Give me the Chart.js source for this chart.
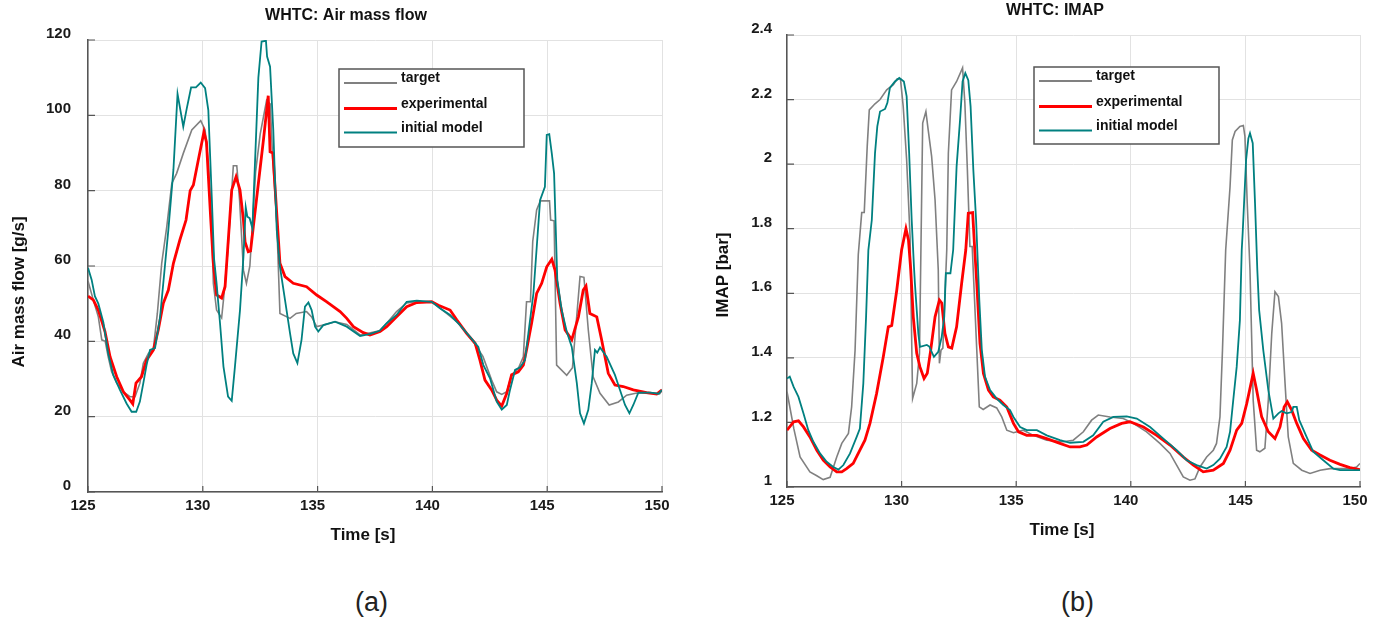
<!DOCTYPE html>
<html>
<head>
<meta charset="utf-8">
<script src="https://cdn.jsdelivr.net/npm/chart.js@4.4.1/dist/chart.umd.min.js"></script>
<style>
  html, body { margin: 0; padding: 0; background: #fff; }
  body { width: 1379px; height: 625px; position: relative; overflow: hidden; }
  canvas { position: absolute; top: 0; }
  #airChart { left: 0; }
  #imapChart { left: 700px; }
  .cap { position: absolute; top: 586px; font: 27px "Liberation Sans", Arial, sans-serif; color: #222; line-height: 32px; }
</style>
</head>
<body>
<canvas id="airChart" width="700" height="560"></canvas>
<canvas id="imapChart" width="679" height="560"></canvas>
<div class="cap" style="left:355px">(a)</div>
<div class="cap" style="left:1061px">(b)</div>
<script>
// WHTC comparison: air mass flow (a) and intake manifold pressure (b), 125-150 s window.
// Values.

const SERIES_NAMES = ["target", "experimental", "initial model"];
const TIME_TICKS = [125, 130, 135, 140, 145, 150];
const AIR_TICKS = [0, 20, 40, 60, 80, 100, 120];
const IMAP_TICKS = [1, 1.2, 1.4, 1.6, 1.8, 2, 2.2, 2.4];
const IMAP_TICK_LABELS = ["1", "1.2", "1.4", "1.6", "1.8", "2", "2.2", "2.4"];

// (a) air mass flow [g/s]
const airTargetT = [125, 125.23, 125.45, 125.6, 125.75, 125.88, 126.03, 126.25, 126.54, 126.83,
  127.05, 127.26, 127.41, 127.63, 127.85, 128.02, 128.21, 128.43, 128.65, 128.86,
  129.15, 129.52, 129.91, 130.1, 130.24, 130.39, 130.46, 130.6, 130.82, 130.9,
  131.09, 131.33, 131.48, 131.6, 131.77, 131.9, 132.05, 132.3, 132.5, 132.78,
  132.94, 133.04, 133.22, 133.36, 133.8, 134.07, 134.52, 134.74, 134.96, 135.25,
  135.76, 136.27, 136.85, 137.3, 137.7, 138.01, 138.44, 138.88, 139.32, 139.97,
  140.62, 141.2, 141.78, 142.2, 142.58, 142.8, 143.02, 143.24, 143.45, 143.74,
  143.96, 144.1, 144.27, 144.37, 144.54, 144.7, 145.1, 145.15, 145.3, 145.41,
  145.85, 146.1, 146.43, 146.6, 146.79, 147.0, 147.3, 147.7, 148.1, 148.46,
  148.9, 149.9, 150];
const airTargetV = [56, 51, 46.5, 40.4, 40, 35.9, 31.9, 28.9, 26.6, 25.3,
  25.3, 28.9, 34.2, 36.8, 38.2, 47.4, 60.7, 70.4, 81.9, 84.6,
  89.9, 96.1, 98.6, 96.1, 87.3, 69.6, 55.4, 48.3, 46.2, 51,
  64, 86.6, 86.6, 77.7, 58.9, 55.4, 60, 85, 95, 104,
  103, 89, 72, 47.4, 46.1, 47.4, 47.9, 46.5, 43.9, 44.3,
  45.2, 44.5, 41.7, 42.3, 42.8, 44.8, 47.9, 50.2, 50.5, 50.5,
  47.4, 44.5, 39.9, 36, 29.7, 26.6, 25.9, 26.6, 31.1, 32.8,
  35.9, 50.5, 50.5, 66.5, 74.9, 77.3, 77.3, 72.2, 72, 33.7,
  31, 33, 57.2, 57, 43, 30.6, 26.2, 23.1, 23.9, 25.7,
  26.3, 26.1, 27];

const airExpT = [125, 125.23, 125.45, 125.74, 125.96, 126.25, 126.54, 126.83, 126.95, 127.09,
  127.33, 127.55, 127.85, 128.06, 128.28, 128.5, 128.72, 129.0, 129.27, 129.45,
  129.59, 129.8, 130.05, 130.16, 130.35, 130.46, 130.6, 130.82, 130.97, 131.04,
  131.26, 131.45, 131.62, 131.77, 131.84, 131.98, 132.08, 132.2, 132.42, 132.64,
  132.85, 132.93, 133.05, 133.22, 133.36, 133.58, 133.94, 134.52, 134.96, 135.4,
  135.98, 136.27, 136.56, 136.99, 137.28, 137.72, 138.01, 138.44, 138.88, 139.32,
  139.97, 140.26, 140.77, 141.06, 141.49, 141.86, 142.07, 142.29, 142.58, 142.8,
  143.02, 143.24, 143.45, 143.74, 143.96, 144.1, 144.32, 144.54, 144.76, 144.98,
  145.2, 145.34, 145.56, 145.78, 146.07, 146.36, 146.57, 146.69, 146.86, 147.16,
  147.37, 147.66, 147.95, 148.31, 148.75, 149.33, 149.77, 150];
const airExpV = [52, 51, 48.3, 42.6, 35.9, 30.6, 26.6, 24.4, 23.4, 28.9,
  30.6, 35, 37.7, 43, 50.1, 53.6, 60.7, 66.9, 72.2, 80,
  81.5, 88, 95.6, 92.9, 72, 60.7, 52.3, 51.5, 54.5, 60.7,
  80.2, 83.7, 80.2, 72.2, 66.4, 63.8, 64, 70.4, 81.9, 93.4,
  105.2, 90.3, 90, 74, 60.7, 57.2, 55.4, 54.5, 52.3, 50.5,
  47.9, 46.1, 43.9, 42.3, 41.7, 42.6, 43.9, 46.5, 49.2, 50.3,
  50.5, 49.6, 48.3, 45.7, 42.1, 39.5, 35, 29.7, 27.1, 24.4,
  22.8, 26.2, 31.1, 31.9, 33.7, 37.7, 44.8, 52.7, 55.4, 59.8,
  61.8, 58.9, 50.1, 43, 40.4, 46.5, 53.6, 54.7, 47.4, 46.5,
  40.4, 31.5, 28.4, 28, 27.1, 26.4, 26, 27.1];

const airModelT = [125, 125.16, 125.3, 125.45, 125.67, 125.88, 126.1, 126.39, 126.68, 126.9,
  127.1, 127.26, 127.41, 127.55, 127.7, 127.92, 128.14, 128.35, 128.5, 128.72,
  128.9, 129.15, 129.3, 129.49, 129.7, 129.91, 130.1, 130.24, 130.39, 130.49,
  130.6, 130.75, 130.9, 131.1, 131.26, 131.4, 131.62, 131.77, 131.87, 131.94,
  132.04, 132.16, 132.42, 132.56, 132.75, 132.8, 132.93, 133.07, 133.22, 133.36,
  133.58, 133.8, 133.94, 134.12, 134.3, 134.45, 134.6, 134.74, 134.89, 135.03,
  135.25, 135.76, 136.27, 136.85, 137.3, 137.7, 138.01, 138.44, 138.88, 139.32,
  139.97, 140.33, 140.77, 141.2, 141.64, 142.0, 142.22, 142.51, 142.8, 143.02,
  143.24, 143.38, 143.6, 143.82, 144.03, 144.18, 144.4, 144.69, 144.9, 144.98,
  145.09, 145.2, 145.3, 145.44, 145.63, 145.85, 146.07, 146.29, 146.43, 146.6,
  146.79, 146.94, 147.08, 147.18, 147.3, 147.59, 147.95, 148.17, 148.39, 148.58,
  148.75, 148.97, 149.5, 149.86, 150];
const airModelV = [59.5, 56.3, 52, 50, 45, 36.8, 31.1, 27.1, 23.5, 21.3,
  21.3, 24, 28.9, 33.7, 37.7, 38.2, 46.5, 60, 69.6, 85.5,
  105.7, 97, 101.8, 107.4, 107.4, 108.7, 107.2, 101.4, 78.4, 62,
  55.4, 44.8, 33.3, 25.3, 24.2, 33.3, 48.3, 62.5, 75.6, 73.1,
  72.7, 70, 110, 119.6, 119.8, 115.6, 112.9, 96.1, 69.6, 59.8,
  51, 42.1, 36.8, 34.2, 40.4, 49.2, 50.3, 48.3, 43.9, 42.6,
  44.3, 45.2, 43.9, 41.4, 42, 42.8, 44.8, 47, 50.5, 50.8,
  50.5, 48.8, 47, 44.3, 41.2, 38.5, 33.7, 30.2, 24, 21.9,
  23.1, 27.1, 32.4, 33.1, 35, 42.1, 52.7, 77.5, 81, 94.8,
  95, 89.9, 84.6, 56.3, 48.3, 42.6, 38.5, 28.9, 20.9, 18.2,
  21.8, 28.9, 37.7, 37, 38.4, 35.9, 31.1, 27.1, 23.1, 20.9,
  23.1, 26.4, 26.4, 26.1, 27.1];

// (b) IMAP [bar]
const imapTargetT = [125, 125.3, 125.57, 126.0, 126.3, 126.58, 126.88, 127.17, 127.39, 127.68,
  127.82, 127.97, 128.11, 128.26, 128.37, 128.5, 128.59, 128.84, 129.06, 129.35,
  129.64, 129.81, 129.95, 130.07, 130.22, 130.37, 130.48, 130.66, 130.78, 130.92,
  131.06, 131.16, 131.31, 131.46, 131.6, 131.65, 131.72, 131.8, 131.97, 132.04,
  132.18, 132.4, 132.66, 132.76, 132.87, 132.98, 133.08, 133.28, 133.39, 133.56,
  133.86, 134.15, 134.37, 134.59, 134.88, 135.31, 135.75, 136.33, 137.05, 137.49,
  137.93, 138.29, 138.58, 139.09, 139.67, 140.11, 140.69, 141.27, 141.71, 142.0,
  142.29, 142.58, 142.8, 143.02, 143.31, 143.6, 143.74, 143.89, 144.0, 144.14,
  144.33, 144.43, 144.55, 144.76, 144.91, 144.98, 145.08, 145.2, 145.34, 145.49,
  145.63, 145.85, 146.0, 146.15, 146.29, 146.44, 146.58, 146.73, 146.87, 147.09,
  147.46, 147.82, 148.26, 148.69, 149.56, 149.85, 150];
const imapTargetV = [1.295, 1.18, 1.093, 1.047, 1.035, 1.023, 1.03, 1.093, 1.135, 1.166,
  1.248, 1.424, 1.72, 1.85, 1.85, 2.055, 2.168, 2.187, 2.2, 2.23,
  2.246, 2.264, 2.264, 2.179, 2.013, 1.775, 1.274, 1.321, 1.414, 2.127,
  2.163, 2.106, 2.024, 1.889, 1.672, 1.383, 1.424, 1.43, 1.734, 2.034,
  2.23, 2.256, 2.298, 2.19, 1.982, 1.745, 1.745, 1.424, 1.248, 1.24,
  1.254, 1.245, 1.217, 1.176, 1.168, 1.176, 1.16, 1.145, 1.14, 1.145,
  1.171, 1.207, 1.223, 1.217, 1.212, 1.197, 1.171, 1.135, 1.104, 1.068,
  1.031, 1.021, 1.025, 1.062, 1.093, 1.114, 1.135, 1.217, 1.424, 1.734,
  1.93, 2.075, 2.101, 2.117, 2.12, 2.086, 1.879, 1.672, 1.269, 1.114,
  1.109, 1.12, 1.269, 1.476, 1.605, 1.59, 1.507, 1.321, 1.155, 1.073,
  1.052, 1.042, 1.052, 1.057, 1.057, 1.062, 1.073];

const imapExpT = [125, 125.29, 125.5, 125.72, 126.0, 126.3, 126.58, 126.88, 127.17, 127.39,
  127.6, 127.89, 128.18, 128.4, 128.62, 128.91, 129.2, 129.42, 129.57, 129.79,
  130.0, 130.19, 130.3, 130.4, 130.51, 130.66, 130.8, 130.98, 131.12, 131.27,
  131.46, 131.65, 131.75, 131.89, 132.04, 132.19, 132.4, 132.62, 132.8, 132.91,
  133.1, 133.2, 133.28, 133.42, 133.57, 133.79, 134.0, 134.29, 134.59, 134.88,
  135.1, 135.46, 135.9, 136.33, 136.91, 137.35, 137.78, 138.08, 138.51, 139.09,
  139.6, 139.96, 140.55, 141.13, 141.71, 142.29, 142.73, 143.16, 143.6, 144.04,
  144.33, 144.62, 144.84, 145.06, 145.34, 145.49, 145.71, 146.0, 146.29, 146.51,
  146.69, 146.83, 147.02, 147.24, 147.53, 147.89, 148.26, 148.69, 149.13, 149.56,
  150];
const imapExpV = [1.176, 1.202, 1.205, 1.186, 1.155, 1.114, 1.083, 1.062, 1.047, 1.047,
  1.057, 1.073, 1.114, 1.145, 1.197, 1.29, 1.403, 1.496, 1.5, 1.61,
  1.734, 1.80, 1.765, 1.672, 1.527, 1.414, 1.372, 1.336, 1.352, 1.424,
  1.527, 1.579, 1.57, 1.476, 1.434, 1.43, 1.496, 1.631, 1.734, 1.848,
  1.85, 1.724, 1.631, 1.445, 1.352, 1.30, 1.279, 1.269, 1.248, 1.197,
  1.171, 1.16, 1.16, 1.15, 1.135, 1.124, 1.124, 1.13, 1.155, 1.181,
  1.197, 1.202, 1.186, 1.16, 1.13, 1.093, 1.068, 1.047, 1.052, 1.073,
  1.114, 1.176, 1.197, 1.259, 1.352, 1.30, 1.217, 1.171, 1.15, 1.186,
  1.248, 1.264, 1.238, 1.197, 1.15, 1.114, 1.099, 1.083, 1.07, 1.06,
  1.054];

const imapModelT = [125, 125.12, 125.29, 125.5, 125.72, 125.93, 126.15, 126.44, 126.73, 127.02,
  127.24, 127.46, 127.75, 128.04, 128.18, 128.33, 128.45, 128.55, 128.7, 128.84,
  128.94, 129.06, 129.28, 129.38, 129.49, 129.71, 129.9, 130.1, 130.22, 130.33,
  130.44, 130.54, 130.58, 130.73, 130.8, 131.1, 131.21, 131.41, 131.6, 131.75,
  131.86, 131.93, 132.13, 132.25, 132.4, 132.55, 132.66, 132.78, 132.91, 133.01,
  133.13, 133.25, 133.39, 133.5, 133.64, 133.86, 134.15, 134.44, 134.73, 134.88,
  135.17, 135.46, 135.9, 136.33, 136.91, 137.35, 137.93, 138.36, 138.8, 139.24,
  139.82, 140.26, 140.84, 141.42, 142.0, 142.44, 142.87, 143.31, 143.6, 143.89,
  144.18, 144.33, 144.47, 144.62, 144.76, 144.84, 144.88, 145.03, 145.13, 145.2,
  145.32, 145.42, 145.52, 145.6, 145.78, 146.0, 146.22, 146.44, 146.58, 146.8,
  147.02, 147.09, 147.24, 147.35, 147.67, 147.96, 148.4, 148.84, 149.13, 150];
const imapModelV = [1.336, 1.342, 1.31, 1.279, 1.228, 1.176, 1.14, 1.104, 1.078, 1.062,
  1.054, 1.068, 1.104, 1.155, 1.181, 1.321, 1.527, 1.734, 1.827, 2.034,
  2.117, 2.163, 2.171, 2.19, 2.236, 2.256, 2.267, 2.256, 2.21, 2.034,
  1.827, 1.682, 1.631, 1.476, 1.434, 1.44, 1.435, 1.403, 1.419, 1.465,
  1.527, 1.662, 1.662, 1.734, 1.993, 2.137, 2.256, 2.282, 2.26, 2.179,
  1.982, 1.827, 1.579, 1.424, 1.341, 1.30, 1.274, 1.254, 1.238, 1.217,
  1.186, 1.176, 1.176, 1.16, 1.145, 1.137, 1.14, 1.16, 1.202, 1.217,
  1.219, 1.212, 1.186, 1.15, 1.114, 1.083, 1.068, 1.057, 1.068, 1.088,
  1.124, 1.171, 1.269, 1.372, 1.517, 1.734, 1.786, 2.013, 2.08, 2.096,
  2.065, 1.879, 1.672, 1.548, 1.424, 1.30, 1.212, 1.228, 1.235, 1.228,
  1.232, 1.248, 1.248, 1.207, 1.155, 1.109, 1.083, 1.057, 1.052, 1.052];

const COLORS = ["#808080", "#ff0000", "#008080"];
const WIDTHS = [1.6, 2.8, 1.8];
const FONT = '"Liberation Sans", Arial, sans-serif';

Chart.defaults.font.family = FONT;
Chart.defaults.color = "#1a1a1a";

const pts = (t, v) => t.map((x, i) => ({ x, y: v[i] }));

function lineSet(i, t, v) {
  return {
    label: SERIES_NAMES[i],
    data: pts(t, v),
    borderColor: COLORS[i],
    borderWidth: WIDTHS[i],
    pointRadius: 0,
    tension: 0,
    fill: false,
    order: 3 - i,
  };
}

// matlab-ish inward tick marks on left and bottom axes
const innerTicks = {
  id: "innerTicks",
  beforeDatasetsDraw(chart) {
    const { ctx, chartArea: a, scales: { x, y } } = chart;
    ctx.save();
    ctx.strokeStyle = "#555";
    ctx.lineWidth = 1.2;
    ctx.beginPath();
    x.ticks.forEach(t => { const px = x.getPixelForValue(t.value); ctx.moveTo(px, a.bottom); ctx.lineTo(px, a.bottom - 6); });
    y.ticks.forEach(t => { const py = y.getPixelForValue(t.value); ctx.moveTo(a.left, py); ctx.lineTo(a.left + 7, py); });
    ctx.stroke();
    ctx.restore();
  },
};

// boxed legend inside the plot, built from the datasets
const boxLegend = {
  id: "boxLegend",
  afterDatasetsDraw(chart, args, opts) {
    const { ctx } = chart;
    const b = opts.box;
    ctx.save();
    ctx.fillStyle = "#fff";
    ctx.fillRect(b.x, b.y, b.w, b.h);
    ctx.strokeStyle = "#555";
    ctx.lineWidth = 1.5;
    ctx.strokeRect(b.x, b.y, b.w, b.h);
    ctx.font = "bold 14px " + FONT;
    ctx.textBaseline = "alphabetic";
    ctx.textAlign = "left";
    const rows = [14, 39.5, 63.5];
    chart.data.datasets.forEach((ds, i) => {
      const ly = b.y + rows[i];
      ctx.strokeStyle = ds.borderColor;
      ctx.lineWidth = ds.borderWidth + 0.3;
      ctx.beginPath();
      ctx.moveTo(b.x + 5, ly);
      ctx.lineTo(b.x + 58, ly);
      ctx.stroke();
      ctx.fillStyle = "#111";
      ctx.fillText(ds.label, b.x + 62, ly - 1);
    });
    ctx.restore();
  },
};

// titles placed like the exported figure (not centred on the plot area)
const figText = {
  id: "figText",
  afterDraw(chart, args, opts) {
    const { ctx } = chart;
    (opts.items || []).forEach(it => {
      ctx.save();
      ctx.font = it.font;
      ctx.fillStyle = "#111";
      ctx.textAlign = "center";
      ctx.textBaseline = "middle";
      ctx.translate(it.x, it.y);
      if (it.rotate) ctx.rotate(it.rotate);
      ctx.fillText(it.text, 0, 0);
      ctx.restore();
    });
  },
};

function makeChart(id, cfg) {
  const tickFont = { size: 15, weight: "bold" };
  const grid = { color: "#e2e2e2", lineWidth: 1, drawTicks: false };
  const border = { display: true, color: "#555", width: 1.5 };
  return new Chart(document.getElementById(id), {
    type: "line",
    data: { datasets: cfg.datasets },
    options: {
      responsive: false,
      animation: false,
      devicePixelRatio: 1,
      layout: { padding: cfg.padding, autoPadding: false },
      plugins: {
        legend: { display: false },
        tooltip: { enabled: false },
        boxLegend: { box: cfg.legendBox },
        figText: { items: cfg.texts },
      },
      scales: {
        x: {
          type: "linear",
          min: TIME_TICKS[0],
          max: TIME_TICKS[TIME_TICKS.length - 1],
          afterBuildTicks: s => { s.ticks = TIME_TICKS.map(v => ({ value: v })); },
          afterFit: s => { s.height = cfg.xAxisH; },
          ticks: { font: tickFont, color: "#1a1a1a", padding: 5, labelOffset: -5, maxRotation: 0, autoSkip: false },
          grid, border,
        },
        y: {
          type: "linear",
          min: cfg.yTicks[0],
          max: cfg.yTicks[cfg.yTicks.length - 1],
          afterBuildTicks: s => { s.ticks = cfg.yTicks.map(v => ({ value: v })); },
          afterFit: s => { s.width = cfg.yAxisW; },
          ticks: { font: tickFont, color: "#1a1a1a", padding: cfg.yPad, labelOffset: -6, autoSkip: false,
                   callback: (v, i) => cfg.yLabels[i] },
          grid, border,
        },
      },
    },
    plugins: [innerTicks, boxLegend, figText],
  });
}

makeChart("airChart", {
  datasets: [lineSet(0, airTargetT, airTargetV), lineSet(1, airExpT, airExpV), lineSet(2, airModelT, airModelV)],
  yTicks: AIR_TICKS,
  yLabels: AIR_TICKS.map(String),
  padding: { left: 0, right: 38, top: 40, bottom: 0 },
  yAxisW: 88,
  xAxisH: 68,
  yPad: 17,
  legendBox: { x: 339, y: 69, w: 185, h: 78 },
  texts: [
    { text: "WHTC: Air mass flow", x: 346, y: 16, font: "bold 16px " + FONT },
    { text: "Time [s]", x: 363, y: 535, font: "bold 17px " + FONT },
    { text: "Air mass flow [g/s]", x: 19, y: 292, rotate: -Math.PI / 2, font: "bold 17px " + FONT },
  ],
});

makeChart("imapChart", {
  datasets: [lineSet(0, imapTargetT, imapTargetV), lineSet(1, imapExpT, imapExpV), lineSet(2, imapModelT, imapModelV)],
  yTicks: IMAP_TICKS,
  yLabels: IMAP_TICK_LABELS,
  padding: { left: 0, right: 19, top: 35, bottom: 0 },
  yAxisW: 87,
  xAxisH: 73,
  yPad: 15,
  legendBox: { x: 334, y: 67, w: 185, h: 77 },
  texts: [
    { text: "WHTC: IMAP", x: 355, y: 11, font: "bold 16px " + FONT },
    { text: "Time [s]", x: 362, y: 530, font: "bold 17px " + FONT },
    { text: "IMAP [bar]", x: 23, y: 275, rotate: -Math.PI / 2, font: "bold 17px " + FONT },
  ],
});
</script>
</body>
</html>
